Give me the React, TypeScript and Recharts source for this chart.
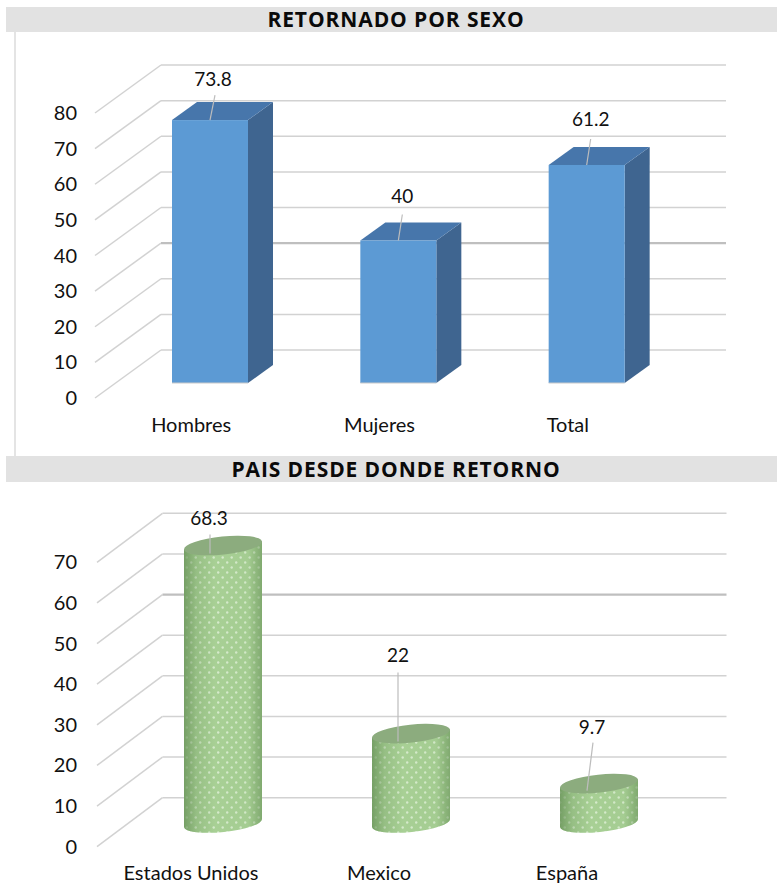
import React from "react";
import { BarChart, Bar, XAxis, YAxis, CartesianGrid, LabelList } from "recharts";

const sexCategories = ["Hombres", "Mujeres", "Total"];
const sexValues = [73.8, 40, 61.2];
const sexTicks = [0, 10, 20, 30, 40, 50, 60, 70, 80];

const countryCategories = ["Estados Unidos", "Mexico", "España"];
const countryValues = [68.3, 22, 9.7];
const countryTicks = [0, 10, 20, 30, 40, 50, 60, 70];

const sexTitle = "RETORNADO POR SEXO";
const countryTitle = "PAIS DESDE DONDE RETORNO";

const sexData = sexCategories.map((name, i) => ({ name, value: sexValues[i] }));
const countryData = countryCategories.map((name, i) => ({ name, value: countryValues[i] }));

// leader-line layout per bar: base dx/dy, end dx/dy, text dx/dy (relative to the bar top)
const sexLeaders = [
  [0, 0, 5, -25, 3, -41],
  [0, 0, 4, -26, 4, -45],
  [0, 0, 4, -26, 4, -46],
];
const countryLeaders = [
  [-13, 8, -13, -11, -14, -28],
  [-13, 8, -13, -61, -13, -79],
  [-12, 7, -6, -41, -7, -57],
];

const FONT = "Lato, 'Open Sans', sans-serif";
const TITLE_FONT = "'Open Sans', Lato, sans-serif";
const TILT = -6;

const gridRenderer = (backDx: number, backDy: number, frontX: number, frontDy: number, heavyIndex: number) =>
  (p: any) => {
    const heavy = p.index === heavyIndex;
    return (
      <g key={p.key ?? p.index}>
        <line x1={frontX} y1={p.y1 + frontDy} x2={p.x1 + backDx} y2={p.y1 + backDy} stroke="#d2d2d2" strokeWidth={1.5} />
        <line
          x1={p.x1 + backDx}
          y1={p.y1 + backDy}
          x2={p.x2 + backDx}
          y2={p.y1 + backDy}
          stroke={heavy ? "#bfbfbf" : "#d2d2d2"}
          strokeWidth={heavy ? 2.2 : 1.5}
        />
      </g>
    );
  };

const yTick = (frontDy: number) => (p: any) => (
  <text x={77} y={p.y + frontDy + 7} textAnchor="end" fontFamily={FONT} fontSize={20} fill="#111">
    {p.payload.value}
  </text>
);

const xTick = (dx: number, y: number) => (p: any) => (
  <text x={p.x + dx} y={y} textAnchor="middle" fontFamily={FONT} fontSize={20} fill="#111">
    {p.payload.value}
  </text>
);

const Box = (p: any) => {
  const { x, y, width: w, height: h } = p;
  const dx = 25;
  const dy = 18;
  return (
    <g>
      <polygon points={`${x + w},${y} ${x + w + dx},${y - dy} ${x + w + dx},${y + h - dy} ${x + w},${y + h}`} fill="#3f6590" />
      <polygon points={`${x},${y} ${x + w},${y} ${x + w + dx},${y - dy} ${x + dx},${y - dy}`} fill="#4776ab" />
      <rect x={x} y={y} width={w} height={h} fill="#5c9ad4" />
      <line x1={x} y1={y + h} x2={x + w} y2={y + h} stroke="#c9c9c9" strokeWidth={1.2} />
    </g>
  );
};

const Cylinder = (p: any) => {
  const { x, y, width: w, height: h } = p;
  const hw = w / 2;
  const cx = x + hw;
  const rad = (TILT * Math.PI) / 180;
  const rx = hw / Math.cos(rad);
  const ry = 9;
  const t = hw * Math.tan(-rad);
  const yb = y + h;
  const d = `M${cx - hw},${y + t} L${cx - hw},${yb + t} A${rx},${ry} ${TILT} 0 0 ${cx + hw},${yb - t} L${cx + hw},${y - t} Z`;
  return (
    <g>
      <path d={d} fill="url(#dots)" />
      <path d={d} fill="url(#edge)" />
      <ellipse cx={cx} cy={y} rx={rx} ry={ry} transform={`rotate(${TILT} ${cx} ${y})`} fill="#8cac7e" />
    </g>
  );
};

const valueLabel = (leaders: number[][], halfWidth: number) => (p: any) => {
  const [bx, by, ex, ey, tx, ty] = leaders[p.index];
  const cx = p.x + halfWidth;
  const y = p.y;
  return (
    <g>
      <line x1={cx + bx} y1={y + by} x2={cx + ex} y2={y + ey} stroke="#bdbdbd" strokeWidth={1.2} />
      <text x={cx + tx} y={y + ty + 7} textAnchor="middle" fontFamily={FONT} fontSize={19} fill="#111">
        {p.value}
      </text>
    </g>
  );
};

const titleStyle = (top: number, height: number): React.CSSProperties => ({
  position: "absolute",
  left: 6,
  top,
  width: 762,
  paddingLeft: 9,
  height,
  lineHeight: `${height}px`,
  background: "#e2e2e2",
  textAlign: "center",
  fontFamily: TITLE_FONT,
  fontWeight: 700,
  fontSize: 21,
  letterSpacing: 0.9,
  color: "#0a0a0a",
  whiteSpace: "nowrap",
  zIndex: 2,
});

export default function App() {
  return (
    <div style={{ position: "absolute", left: 0, top: 0, width: 777, height: 884, background: "#fff", overflow: "hidden" }}>
      <div style={{ position: "absolute", left: 14, top: 32, width: 2, height: 424, background: "#e4e4e4" }} />
      <div style={titleStyle(7, 25)}>{sexTitle}</div>
      <div style={titleStyle(456, 26)}>{countryTitle}</div>

      <div style={{ position: "absolute", left: 0, top: 0 }}>
        <BarChart width={777} height={450} data={sexData} margin={{ left: 56, right: 96, top: 98, bottom: 27 }}>
          <CartesianGrid vertical={false} horizontal={gridRenderer(45, -33, 95, 15, 3) as any} />
          <XAxis dataKey="name" axisLine={false} tickLine={false} height={40} tick={xTick(-19, 432) as any} />
          <YAxis type="number" domain={[0, 80]} ticks={sexTicks} width={60} axisLine={false} tickLine={false} tick={yTick(15) as any} />
          <Bar dataKey="value" barSize={76} isAnimationActive={false} shape={Box}>
            <LabelList dataKey="value" content={valueLabel(sexLeaders, 38) as any} />
          </Bar>
        </BarChart>
      </div>

      <div style={{ position: "absolute", left: 0, top: 450 }}>
        <BarChart width={777} height={434} data={countryData} margin={{ left: 69, right: 84, top: 88.6, bottom: 21 }}>
          <defs>
            <pattern id="dots" width="9" height="10" patternUnits="userSpaceOnUse">
              <rect width="9" height="10" fill="#a8d095" />
              <circle cx="2.2" cy="2.5" r="1.2" fill="#d6ebcc" />
              <circle cx="6.7" cy="7.5" r="1.2" fill="#d6ebcc" />
            </pattern>
            <linearGradient id="edge" x1="0" x2="1" y1="0" y2="0">
              <stop offset="0" stopColor="#5f8a50" stopOpacity={0.7} />
              <stop offset="0.16" stopColor="#5f8a50" stopOpacity={0.25} />
              <stop offset="0.4" stopColor="#5f8a50" stopOpacity={0} />
              <stop offset="0.82" stopColor="#5f8a50" stopOpacity={0.05} />
              <stop offset="1" stopColor="#5f8a50" stopOpacity={0.55} />
            </linearGradient>
          </defs>
          <CartesianGrid vertical={false} horizontal={gridRenderer(33.5, -25.3, 97, 23.7, 5) as any} />
          <XAxis dataKey="name" axisLine={false} tickLine={false} height={40} tick={xTick(-32, 430) as any} />
          <YAxis type="number" domain={[0, 70]} ticks={countryTicks} width={60} axisLine={false} tickLine={false} tick={yTick(23.7) as any} />
          <Bar dataKey="value" barSize={78} isAnimationActive={false} shape={Cylinder}>
            <LabelList dataKey="value" content={valueLabel(countryLeaders, 39) as any} />
          </Bar>
        </BarChart>
      </div>
    </div>
  );
}
